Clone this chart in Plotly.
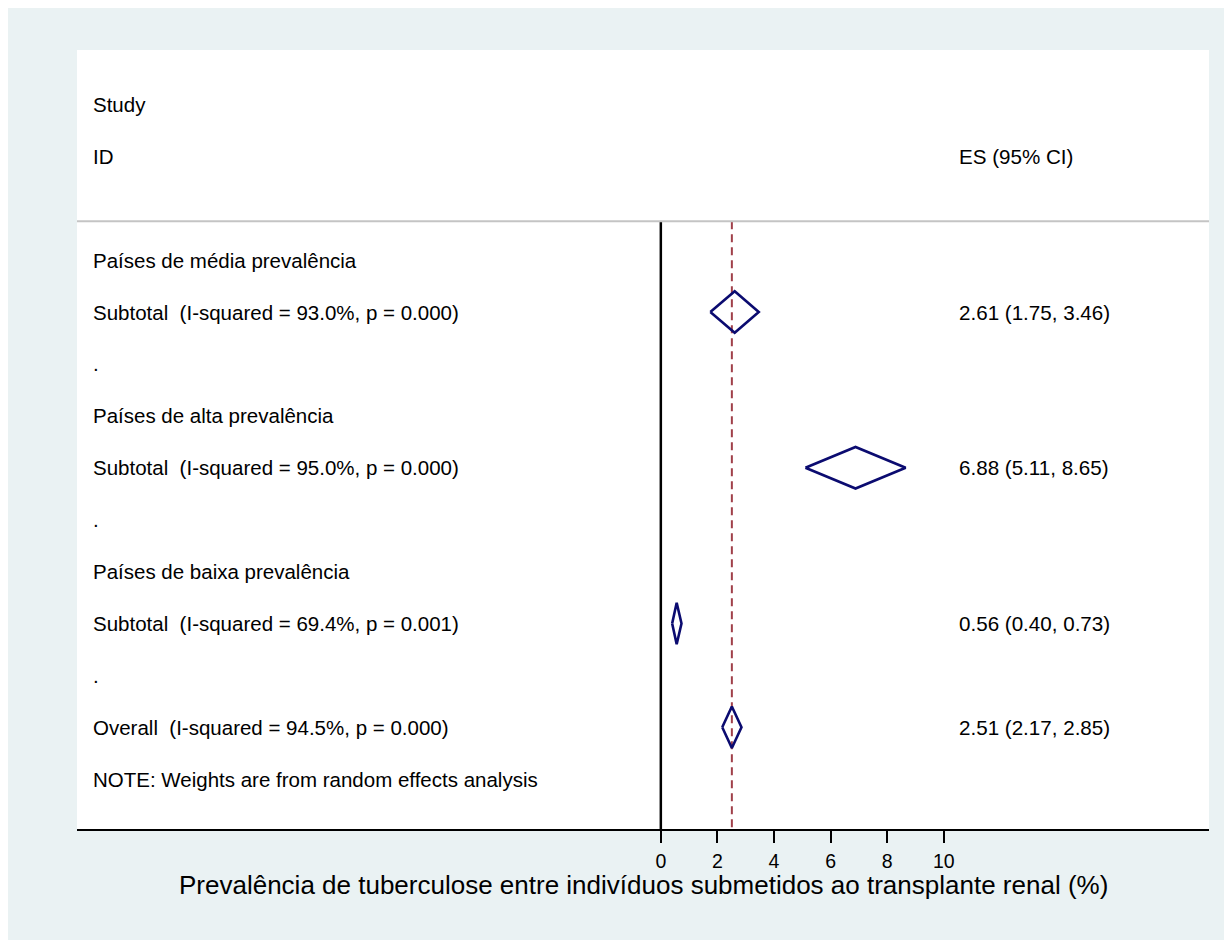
import plotly.graph_objects as go

# ---- data ----
row_labels = ["Study", "ID", "", "Países de média prevalência",
              "Subtotal  (I-squared = 93.0%, p = 0.000)", ".",
              "Países de alta prevalência",
              "Subtotal  (I-squared = 95.0%, p = 0.000)", ".",
              "Países de baixa prevalência",
              "Subtotal  (I-squared = 69.4%, p = 0.001)", ".",
              "Overall  (I-squared = 94.5%, p = 0.000)",
              "NOTE: Weights are from random effects analysis"]
diamond_rows = [4, 7, 10, 12]
es = [2.61, 6.88, 0.56, 2.51]
ci_lo = [1.75, 5.11, 0.40, 2.17]
ci_hi = [3.46, 8.65, 0.73, 2.85]
es_labels = ["2.61 (1.75, 3.46)", "6.88 (5.11, 8.65)",
             "0.56 (0.40, 0.73)", "2.51 (2.17, 2.85)"]
header_es = "ES (95% CI)"
x_title = "Prevalência de tuberculose entre indivíduos submetidos ao transplante renal (%)"
tick_vals = [0, 2, 4, 6, 8, 10]
overall_es = 2.51

FONT = "Arial, Liberation Sans, sans-serif"
X_RANGE = [-20.63, 19.37]
Y_RANGE = [13.96, -1.05]
HEADER_LINE = 2.25
LABEL_X = -20.13
ES_X = 10.48
HALF_H = 0.40

fig = go.Figure()

# diamonds
for r, e, lo, hi in zip(diamond_rows, es, ci_lo, ci_hi):
    fig.add_trace(go.Scatter(
        x=[lo, e, hi, e, lo], y=[r, r - HALF_H, r, r + HALF_H, r],
        mode="lines", line=dict(color="#0B0B70", width=2.6),
        hoverinfo="skip", showlegend=False))

# null line and overall line
fig.add_shape(type="line", xref="x", yref="y", x0=0, x1=0,
              y0=HEADER_LINE, y1=Y_RANGE[0],
              line=dict(color="black", width=2.5), layer="below")
fig.add_shape(type="line", xref="x", yref="y", x0=overall_es, x1=overall_es,
              y0=HEADER_LINE, y1=Y_RANGE[0],
              line=dict(color="#A0404A", width=2, dash="8px,5px"), layer="below")
# header separator
fig.add_shape(type="line", xref="paper", yref="y", x0=0, x1=1,
              y0=HEADER_LINE, y1=HEADER_LINE,
              line=dict(color="#C4C4C4", width=2))

# row labels
for i, lab in enumerate(row_labels):
    if lab:
        fig.add_annotation(x=LABEL_X, y=i, xref="x", yref="y", text=lab,
                           showarrow=False, xanchor="left", yanchor="middle",
                           font=dict(family=FONT, size=20.5, color="black"))
fig.add_annotation(x=ES_X, y=1, xref="x", yref="y", text=header_es,
                   showarrow=False, xanchor="left", yanchor="middle",
                   font=dict(family=FONT, size=20.6, color="black"))
for r, lab in zip(diamond_rows, es_labels):
    fig.add_annotation(x=ES_X, y=r, xref="x", yref="y", text=lab,
                       showarrow=False, xanchor="left", yanchor="middle",
                       font=dict(family=FONT, size=20.6, color="black"))

# x-axis title
fig.add_annotation(x=0.5, y=-56 / 779, xref="paper", yref="paper", text=x_title,
                   showarrow=False, xanchor="center", yanchor="middle",
                   font=dict(family=FONT, size=26, color="black"))

fig.update_layout(
    width=1232, height=940,
    margin=dict(l=69, r=31, t=42, b=119),
    paper_bgcolor="#EAF2F3", plot_bgcolor="white",
    showlegend=False,
    xaxis=dict(range=X_RANGE, tickvals=tick_vals, ticktext=[str(v) for v in tick_vals],
               showline=True, linecolor="black", linewidth=2,
               ticks="outside", ticklen=12, tickwidth=2, tickcolor="black",
               showgrid=False, zeroline=False, ticklabelstandoff=2,
               tickfont=dict(family=FONT, size=19.5, color="black"),
               fixedrange=True),
    yaxis=dict(range=Y_RANGE, visible=False, showgrid=False, zeroline=False,
               fixedrange=True),
)

fig.write_html("out.html")
